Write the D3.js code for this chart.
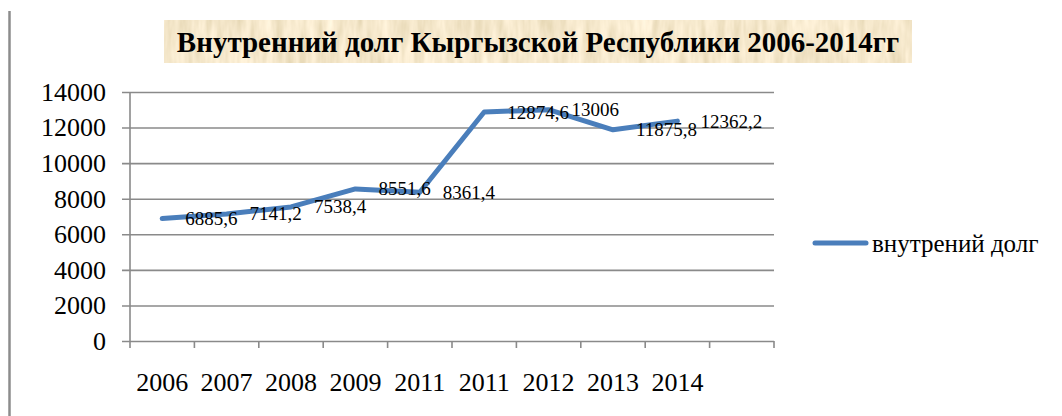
<!DOCTYPE html>
<html>
<head>
<meta charset="utf-8">
<script src="https://cdn.jsdelivr.net/npm/d3@7"></script>
<style>
  body { margin: 0; background: #fff; }
  svg { display: block; font-family: "Liberation Serif", "Times New Roman", serif; }
</style>
</head>
<body>
<div id="chart"></div>
<script>
// data
var categories = ["2006", "2007", "2008", "2009", "2011", "2011", "2012", "2013", "2014", ""];
var debt = [6885.6, 7141.2, 7538.4, 8551.6, 8361.4, 12874.6, 13006, 11875.8, 12362.2];
var yTicks = [0, 2000, 4000, 6000, 8000, 10000, 12000, 14000];
var seriesName = "внутрений долг";
var title = "Внутренний долг Кыргызской Республики 2006-2014гг";

var width = 1062;
var height = 416;
var plotLeft = 130, plotRight = 774, plotTop = 92, plotBottom = 341;
var blue = "#4a7ebb";
var grid = "#8a8a8a";

var svg = d3
  .select("#chart")
  .append("svg")
  .attr("width", width)
  .attr("height", height);

// parchment look for the title box
svg.append("defs").html(
  `<filter id="paper" x="0%" y="0%" width="100%" height="100%">
    <feTurbulence type="fractalNoise" baseFrequency="0.12 0.025" numOctaves="3" seed="4" result="noise"></feTurbulence>
    <feColorMatrix in="noise" type="matrix"
      values="0.35 0 0 0 0.74
              0.35 0 0 0 0.63
              0.40 0 0 0 0.40
              0 0 0 0 1"></feColorMatrix>
  </filter>`
);

// grey bar at the left edge
svg.append("line")
  .attr("x1", 9.5).attr("x2", 9.5)
  .attr("y1", 11).attr("y2", height)
  .style("stroke", "#8c8c8c")
  .style("stroke-width", 2.5);

// title
svg.append("rect")
  .attr("x", 164).attr("y", 20)
  .attr("width", 748).attr("height", 43)
  .attr("filter", "url(#paper)");
svg.append("text")
  .attr("x", 538).attr("y", 52)
  .attr("text-anchor", "middle")
  .attr("font-weight", "bold")
  .style("font-size", "29px")
  .style("fill", "#000")
  .text(title);

// scales
var x = d3.scaleBand().domain(d3.range(categories.length)).range([plotLeft, plotRight]);
var y = d3.scaleLinear().domain([0, 14000]).range([plotBottom, plotTop]);

// y axis + gridlines
var yAxis = svg.append("g")
  .attr("transform", `translate(${plotLeft},0)`)
  .call(d3.axisLeft(y).tickValues(yTicks).tickSize(8).tickPadding(16).tickFormat(d3.format("d")));
yAxis.select(".domain").remove();
yAxis.selectAll(".tick line")
  .attr("x1", plotRight - plotLeft)
  .style("stroke", grid)
  .style("stroke-width", 1.6);
yAxis.selectAll(".tick text")
  .style("font-family", "Liberation Serif")
  .style("font-size", "26px")
  .style("fill", "#000");

svg.append("line")
  .attr("x1", plotLeft).attr("x2", plotLeft)
  .attr("y1", plotTop).attr("y2", plotBottom)
  .style("stroke", grid)
  .style("stroke-width", 1.6);

// x axis: ticks on band edges, labels at centres
var edges = x.domain().map(function (i) { return x(i); }).concat([plotRight]);
svg.append("g")
  .selectAll("line")
  .data(edges)
  .enter()
  .append("line")
  .attr("x1", function (d) { return d; })
  .attr("x2", function (d) { return d; })
  .attr("y1", plotBottom)
  .attr("y2", plotBottom + 7)
  .style("stroke", grid)
  .style("stroke-width", 1.6);

var xAxis = svg.append("g")
  .attr("transform", `translate(0,${plotBottom})`)
  .call(d3.axisBottom(x).tickSize(0).tickPadding(32).tickFormat(function (i) { return categories[i]; }));
xAxis.select(".domain").remove();
xAxis.selectAll(".tick text")
  .style("font-family", "Liberation Serif")
  .style("font-size", "26px")
  .style("fill", "#000");

// the line
var cx = function (d, i) { return x(i) + x.bandwidth() / 2; };
var line = d3.line()
  .x(cx)
  .y(function (d) { return y(d); });

svg.append("path")
  .datum(debt)
  .attr("d", line)
  .style("fill", "none")
  .style("stroke", blue)
  .style("stroke-width", 5)
  .style("stroke-linejoin", "round")
  .style("stroke-linecap", "round");

// data labels to the right of each point
svg.append("g")
  .selectAll("text")
  .data(debt)
  .enter()
  .append("text")
  .attr("x", function (d, i) { return cx(d, i) + 23; })
  .attr("y", function (d) { return y(d); })
  .attr("dominant-baseline", "central")
  .style("font-size", "19px")
  .style("fill", "#000")
  .text(function (d) { return String(d).replace(".", ","); });

// legend
svg.append("line")
  .attr("x1", 815).attr("x2", 866)
  .attr("y1", 243).attr("y2", 243)
  .style("stroke", blue)
  .style("stroke-width", 5)
  .style("stroke-linecap", "round");
svg.append("text")
  .attr("x", 872).attr("y", 243)
  .attr("dominant-baseline", "central")
  .style("font-size", "25px")
  .style("fill", "#000")
  .text(seriesName);
</script>
</body>
</html>
